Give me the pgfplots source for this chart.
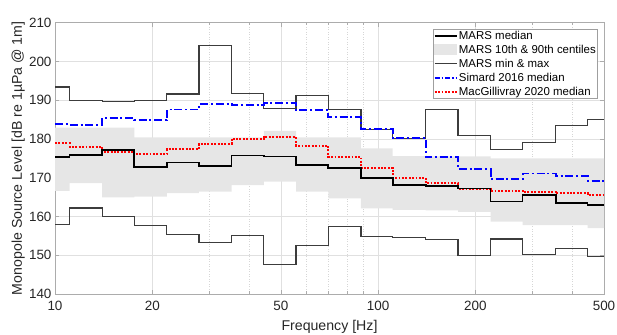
\documentclass[border=0pt]{standalone}
\usepackage{fontspec}
\setmainfont{Liberation Sans}
\usepackage{pgfplots}
\usepackage{pgfplotstable}
\pgfplotsset{compat=1.18}
\usepgfplotslibrary{fillbetween}
\definecolor{fillgray}{RGB}{230,230,230}
\definecolor{mmgray}{RGB}{60,60,60}
\definecolor{gridgray}{RGB}{224,224,224}
\definecolor{mgridgray}{RGB}{214,214,214}
\definecolor{axgray}{RGB}{38,38,38}
\definecolor{simblue}{RGB}{0,0,255}
\definecolor{macred}{RGB}{255,0,0}
\pgfplotsset{
  mylinelegend/.style={legend image code/.code={\draw[##1] (0bp,0bp)--(22bp,0bp);}},
  myarealegend/.style={legend image code/.code={\fill[fillgray] (0bp,-5bp) rectangle (22bp,5bp);}},
}

\pgfplotstableread{
f med p10 p90 mn mx sim mac
10 175.4 166.6 182.9 157.9 193.4 183.8 178.9
11.1 175.8 168.6 182.9 162.2 189.9 183.6 178.0
14.0 177.2 164.9 182.9 160.0 189.6 185.4 176.6
17.6 172.7 165.1 180.4 157.7 189.9 184.8 176.1
22.2 173.9 166.0 180.4 155.3 191.6 187.6 177.3
27.9 173.0 166.4 180.4 153.4 204.1 189.0 178.7
35.2 175.7 168.1 180.4 155.0 191.7 188.7 180.1
44.3 175.5 169.0 182.1 147.7 187.8 189.2 180.4
55.7 173.3 166.4 180.4 152.6 191.3 187.4 178.3
70.1 172.6 164.7 180.4 157.3 187.7 185.7 175.4
88.5 169.9 162.1 177.6 154.8 182.5 182.5 172.5
110.9 168.1 161.7 175.6 154.5 180.2 180.2 170.0
140.3 167.9 161.6 175.5 154.1 187.7 175.3 168.6
176.7 167.2 161.2 175.5 149.9 180.8 172.2 167.1
222.9 163.9 158.7 175.0 154.2 177.2 169.6 166.7
280 165.5 157.8 175.0 150.2 179.1 171.1 166.4
354.5 163.4 157.8 175.0 151.7 183.5 170.5 166.0
445 163.0 157.0 175.0 149.6 185.0 169.2 165.6
500 163.0 157.0 175.0 149.6 185.0 169.2 165.6
}\bands

\begin{document}
\begin{tikzpicture}
\begin{axis}[
  scale only axis,
  width=549bp, height=271.3bp,
  xmode=log, xmin=10, xmax=500,
  ymin=140, ymax=210,
  ytick={140,150,...,210},
  xtick={10,20,50,100,200,500},
  xticklabels={10,20,50,100,200,500},
  minor xtick={30,40,60,70,80,90,300,400},
  xmajorgrids, ymajorgrids, xminorgrids,
  major grid style={gridgray, line width=0.7bp},
  minor grid style={mgridgray, line width=0.5bp, dotted},
  tick align=inside,
  major tick length=4bp, minor tick length=2.5bp,
  axis line style={gray!65, line width=0.8bp},
  tick style={gray!65, line width=0.6bp},
  ticklabel style={font=\fontsize{13.5}{15}\selectfont, text=axgray},
  xticklabel style={yshift=-4bp},
  /pgf/number format/assume math mode=true,
  xlabel={Frequency [Hz]},
  ylabel={Monopole Source Level [dB re 1µPa @ 1m]},
  label style={font=\fontsize{14.2}{16}\selectfont, text=axgray},
  xlabel style={at={(axis description cs:0.5,-0.1216)}, anchor=center},
  ylabel style={at={(axis description cs:-0.0668,0.5)}, anchor=center},
  legend cell align=left,
  legend style={at={(0.989,0.978)}, anchor=north east,
    draw=gray!75, line width=0.6bp, fill=white,
    font=\fontsize{11.5}{13}\selectfont,
    inner sep=0.6bp, row sep=1.8bp,
    nodes={inner sep=1.2bp}},
]
\coordinate (O) at (rel axis cs:0,0);
\addplot[name path=up, draw=none, const plot, forget plot] table[x=f, y=p90] {\bands};
\addplot[name path=lo, draw=none, const plot, forget plot] table[x=f, y=p10] {\bands};
\addplot[fill=fillgray, draw=none, forget plot] fill between[of=up and lo];

\addplot[mmgray, line width=1.1bp, const plot, forget plot] table[x=f, y=mx] {\bands};
\addplot[mmgray, line width=1.1bp, const plot, forget plot] table[x=f, y=mn] {\bands};
\addplot[simblue, line width=1.9bp, const plot, dash pattern=on 8bp off 2.8bp on 2bp off 2.8bp, forget plot] table[x=f, y=sim] {\bands};
\addplot[macred, line width=2bp, const plot, dash pattern=on 1.9bp off 1.5bp, forget plot] table[x=f, y=mac] {\bands};
\addplot[black, line width=1.7bp, const plot, forget plot] table[x=f, y=med] {\bands};

\addlegendimage{mylinelegend, black, line width=1.7bp}
\addlegendentry{MARS median}
\addlegendimage{myarealegend}
\addlegendentry{MARS 10th \& 90th centiles}
\addlegendimage{mylinelegend, mmgray, line width=1.1bp}
\addlegendentry{MARS min \& max}
\addlegendimage{mylinelegend, simblue, line width=1.9bp, dash pattern=on 5bp off 2bp on 1.5bp off 2bp}
\addlegendentry{Simard 2016 median}
\addlegendimage{mylinelegend, macred, line width=2bp, dash pattern=on 1.9bp off 1.5bp}
\addlegendentry{MacGillivray 2020 median}
\end{axis}
\pgfresetboundingbox
\path (O) ++(-55bp,-41bp) rectangle ++(617bp,335bp);
\end{tikzpicture}
\end{document}
